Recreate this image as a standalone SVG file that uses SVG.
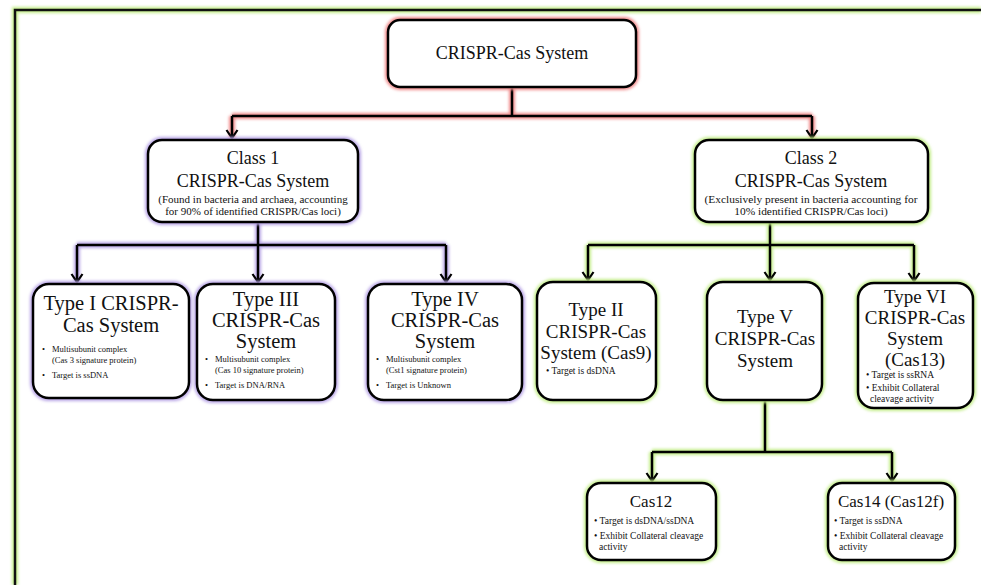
<svg xmlns="http://www.w3.org/2000/svg" width="981" height="585" viewBox="0 0 981 585">
<defs>
<filter id="blur" x="-20%" y="-20%" width="140%" height="140%"><feGaussianBlur stdDeviation="1.8"/></filter>
<marker id="arr" markerUnits="userSpaceOnUse" markerWidth="20" markerHeight="20" refX="0" refY="0" orient="auto" overflow="visible">
<path d="M-8,-5.5 L0,0 L-8,5.5" fill="none" stroke="#000" stroke-width="2.2" stroke-linejoin="miter"/>
</marker>
<style>
text{font-family:"Liberation Serif","Times New Roman",serif;fill:#111;text-anchor:middle}
.box{fill:#fff;stroke:#000;stroke-width:2.5}
.g{fill:none;stroke-width:6;filter:url(#blur)}
.red{stroke:#f08a8a}
.pur{stroke:#b8a4e6}
.grn{stroke:#c4ee8a}
.ln{fill:none;stroke:#000;stroke-width:2.5}
.big{font-size:18px}
.t18{font-size:18px}
.t20{font-size:20.5px}
.t19{font-size:19px}
.t17{font-size:17px}
.sm{font-size:9.5px;text-anchor:start}
.xs{font-size:8.5px;text-anchor:start}
.d1{font-size:11px}
.d2{font-size:11.4px}
</style>
</defs>
<rect width="981" height="585" fill="#fff"/>
<g id="frame">
<path d="M15,585 V10 H981" fill="none" stroke="#c4ee8a" stroke-width="6" filter="url(#blur)"/>
<path d="M15,585 V10 H981" fill="none" stroke="#111" stroke-width="2.5"/>
</g>
<g id="connectors">
<path class="g red" d="M512,87 V116 M232,116 H812 M232,116 V139 M812,116 V139"/>
<path class="g pur" d="M258,222 V245 M77,245 H446 M77,245 V283 M258,245 V283 M446,245 V283"/>
<path class="g grn" d="M770,222 V245 M588,245 H914 M588,245 V281 M770,245 V281 M914,245 V281 M765,400 V452 M652,452 H892 M652,452 V482 M892,452 V482"/>
<path class="ln" d="M512,87 V116 M232,116 H812"/>
<path class="ln" d="M232,116 V138" marker-end="url(#arr)"/>
<path class="ln" d="M812,116 V138" marker-end="url(#arr)"/>
<path class="ln" d="M258,222 V245 M77,245 H446"/>
<path class="ln" d="M77,245 V282" marker-end="url(#arr)"/>
<path class="ln" d="M258,245 V282" marker-end="url(#arr)"/>
<path class="ln" d="M446,245 V282" marker-end="url(#arr)"/>
<path class="ln" d="M770,222 V245 M588,245 H914"/>
<path class="ln" d="M588,245 V280" marker-end="url(#arr)"/>
<path class="ln" d="M770,245 V280" marker-end="url(#arr)"/>
<path class="ln" d="M914,245 V281" marker-end="url(#arr)"/>
<path class="ln" d="M765,400 V452 M652,452 H892"/>
<path class="ln" d="M652,452 V481" marker-end="url(#arr)"/>
<path class="ln" d="M892,452 V481" marker-end="url(#arr)"/>
</g>
<g id="root">
<rect class="g red" x="388" y="20" width="248" height="67" rx="12"/>
<rect class="box" x="388" y="20" width="248" height="67" rx="12"/>
<text class="big" x="512" y="59">CRISPR-Cas System</text>
</g>
<g id="class1">
<rect class="g pur" x="148" y="140" width="210" height="82" rx="14"/>
<rect class="box" x="148" y="140" width="210" height="82" rx="14"/>
<text class="t18" x="253" y="164">Class 1</text>
<text class="t18" x="253" y="187">CRISPR-Cas System</text>
<text class="d1" x="253" y="203">(Found in bacteria and archaea, accounting</text>
<text class="d1" x="253" y="215">for 90% of identified CRISPR/Cas loci)</text>
</g>
<g id="class2">
<rect class="g grn" x="695" y="140" width="233" height="82" rx="14"/>
<rect class="box" x="695" y="140" width="233" height="82" rx="14"/>
<text class="t18" x="811" y="164">Class 2</text>
<text class="t18" x="811" y="187">CRISPR-Cas System</text>
<text class="d2" x="811" y="203">(Exclusively present in bacteria accounting for</text>
<text class="d2" x="811" y="215">10% identified CRISPR/Cas loci)</text>
</g>
<g id="type1">
<rect class="g pur" x="33" y="284" width="156" height="114" rx="16"/>
<rect class="box" x="33" y="284" width="156" height="114" rx="16"/>
<text class="t20" x="111" y="310">Type I CRISPR-</text>
<text class="t20" x="111" y="332">Cas System</text>
<text class="xs" x="42" y="352">•</text><text class="xs" x="52" y="352">Multisubunit complex</text>
<text class="xs" x="52" y="363">(Cas 3 signature protein)</text>
<text class="xs" x="42" y="378">•</text><text class="xs" x="52" y="378">Target is ssDNA</text>
</g>
<g id="type3">
<rect class="g pur" x="197" y="284" width="138" height="116" rx="16"/>
<rect class="box" x="197" y="284" width="138" height="116" rx="16"/>
<text class="t20" x="266" y="306">Type III</text>
<text class="t20" x="266" y="327">CRISPR-Cas</text>
<text class="t20" x="266" y="348">System</text>
<text class="xs" x="205" y="362">•</text><text class="xs" x="215" y="362">Multisubunit complex</text>
<text class="xs" x="215" y="373">(Cas 10 signature protein)</text>
<text class="xs" x="205" y="388">•</text><text class="xs" x="215" y="388">Target is DNA/RNA</text>
</g>
<g id="type4">
<rect class="g pur" x="368" y="284" width="154" height="116" rx="16"/>
<rect class="box" x="368" y="284" width="154" height="116" rx="16"/>
<text class="t20" x="445" y="306">Type IV</text>
<text class="t20" x="445" y="327">CRISPR-Cas</text>
<text class="t20" x="445" y="348">System</text>
<text class="xs" x="376" y="362">•</text><text class="xs" x="386" y="362">Multisubunit complex</text>
<text class="xs" x="386" y="373">(Cst1 signature protein)</text>
<text class="xs" x="376" y="388">•</text><text class="xs" x="386" y="388">Target is Unknown</text>
</g>
<g id="type2">
<rect class="g grn" x="537" y="282" width="119" height="118" rx="16"/>
<rect class="box" x="537" y="282" width="119" height="118" rx="16"/>
<text class="t19" x="596" y="316">Type II</text>
<text class="t19" x="596" y="338">CRISPR-Cas</text>
<text class="t19" x="596" y="359">System (Cas9)</text>
<text class="sm" x="546" y="374">• Target is dsDNA</text>
</g>
<g id="type5">
<rect class="g grn" x="707" y="282" width="115" height="118" rx="16"/>
<rect class="box" x="707" y="282" width="115" height="118" rx="16"/>
<text class="t19" x="765" y="323">Type V</text>
<text class="t19" x="765" y="345">CRISPR-Cas</text>
<text class="t19" x="765" y="367">System</text>
</g>
<g id="type6">
<rect class="g grn" x="858" y="283" width="115" height="125" rx="16"/>
<rect class="box" x="858" y="283" width="115" height="125" rx="16"/>
<text class="t19" x="915" y="303">Type VI</text>
<text class="t19" x="915" y="324">CRISPR-Cas</text>
<text class="t19" x="915" y="345">System</text>
<text class="t19" x="915" y="366">(Cas13)</text>
<text class="sm" x="866" y="378">• Target is ssRNA</text>
<text class="sm" x="866" y="391">• Exhibit Collateral</text>
<text class="sm" x="870" y="402">cleavage activity</text>
</g>
<g id="cas12">
<rect class="g grn" x="587" y="483" width="129" height="77" rx="14"/>
<rect class="box" x="587" y="483" width="129" height="77" rx="14"/>
<text class="t17" x="651" y="507">Cas12</text>
<text class="sm" x="594" y="524">• Target is dsDNA/ssDNA</text>
<text class="sm" x="594" y="539">• Exhibit Collateral cleavage</text>
<text class="sm" x="599" y="550">activity</text>
</g>
<g id="cas14">
<rect class="g grn" x="828" y="483" width="127" height="77" rx="14"/>
<rect class="box" x="828" y="483" width="127" height="77" rx="14"/>
<text class="t17" x="891" y="507">Cas14 (Cas12f)</text>
<text class="sm" x="834" y="524">• Target is ssDNA</text>
<text class="sm" x="834" y="539">• Exhibit Collateral cleavage</text>
<text class="sm" x="839" y="550">activity</text>
</g>
</svg>
